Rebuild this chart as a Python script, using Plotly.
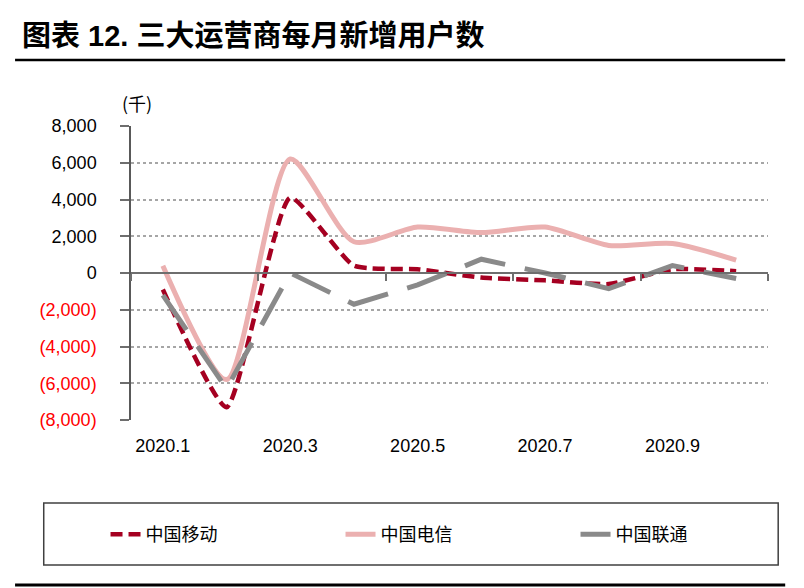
import plotly.graph_objects as go

# 月份（千户）
months = ['2020.1', '2020.2', '2020.3', '2020.4', '2020.5',
          '2020.6', '2020.7', '2020.8', '2020.9', '2020.10']
mobile = [-900, -7300, 4100, 400, 200, -250, -400, -600, 200, 100]
telecom = [400, -5800, 6200, 1700, 2500, 2200, 2500, 1500, 1600, 700]
unicom = [-1200, -6300, 0, -1700, -650, 750, 0, -850, 400, -300]

y_ticks = [8000, 6000, 4000, 2000, 0, -2000, -4000, -6000, -8000]
label_months = ['2020.1', '2020.3', '2020.5', '2020.7', '2020.9']

x = list(range(len(months)))
y_text = []
for v in y_ticks:
    if v < 0:
        y_text.append("<span style='color:#FF0000'>(%s)</span>" % format(-v, ','))
    else:
        y_text.append(format(v, ','))

fig = go.Figure()
fig.add_trace(go.Scatter(x=x, y=mobile, name='中国移动', mode='lines',
                         line=dict(color='#A50021', width=4.5, dash='12px,6px',
                                   shape='spline', smoothing=0.5)))
fig.add_trace(go.Scatter(x=x, y=telecom, name='中国电信', mode='lines',
                         line=dict(color='#EBB0B0', width=5,
                                   shape='spline', smoothing=0.7)))
fig.add_trace(go.Scatter(x=x, y=unicom, name='中国联通', mode='lines',
                         line=dict(color='#8A8A8A', width=5, dash='42px,20px')))
# axis at zero with ticks between months
fig.add_trace(go.Scatter(x=x, y=[None] * len(x), xaxis='x2', showlegend=False,
                         hoverinfo='skip'))

font_num = 'Liberation Sans, Arial, sans-serif'
font_cjk = 'Noto Sans CJK SC, sans-serif'

# page body adds 8px offset, so the figure is 8px smaller
fig.update_layout(
    width=796, height=580,
    margin=dict(l=123, r=36, t=118, b=168, autoexpand=False),
    paper_bgcolor='white', plot_bgcolor='white',
    font=dict(family=font_num, size=17, color='black'),
    xaxis=dict(range=[-0.5, len(months) - 0.5],
               tickvals=[months.index(m) for m in label_months],
               ticktext=label_months,
               ticks='outside', ticklen=9, tickcolor='rgba(0,0,0,0)',
               showgrid=False, showline=False, zeroline=False,
               tickfont=dict(family=font_num, size=18)),
    xaxis2=dict(overlaying='x', matches='x', anchor='free', position=0.5,
                tickvals=[i - 0.5 for i in range(0, len(months) + 1, 2)],
                ticks='outside', ticklen=7, tickcolor='#6E6E6E', tickwidth=1.5,
                showticklabels=False, showgrid=False, zeroline=False,
                showline=True, linecolor='#6E6E6E', linewidth=1.5),
    yaxis=dict(range=[-8000, 8000], tickvals=y_ticks, ticktext=y_text,
               showgrid=True, gridcolor='#A6A6A6', gridwidth=1.5, griddash='dot',
               zeroline=False, showline=True, linecolor='#595959', linewidth=1.5,
               ticks='outside', ticklen=9, tickcolor='#6E6E6E', tickwidth=1.5,
               ticklabelstandoff=20,
               tickfont=dict(family=font_num, size=18)),
    legend=dict(orientation='h', x=-0.04, y=-0.39, xanchor='left', yanchor='middle',
                font=dict(family=font_cjk, size=18), entrywidth=190,
                bgcolor='rgba(0,0,0,0)'),
    showlegend=True,
)

fig.add_annotation(text='<b>图表 12. 三大运营商每月新增用户数</b>', xref='paper', yref='paper',
                   x=-0.175, y=1.306, xanchor='left', yanchor='middle', showarrow=False,
                   font=dict(family='Liberation Sans, Noto Sans CJK SC', size=29, color='black'))
fig.add_annotation(text='(千)', xref='paper', yref='paper', x=0.01, y=1.077,
                   xanchor='center', yanchor='middle', showarrow=False,
                   font=dict(family=font_cjk, size=18, color='black'))

# title rule, legend frame, bottom rule
fig.add_shape(type='line', xref='paper', yref='paper', x0=-0.182, x1=1.027,
              y0=1.2245, y1=1.2245, line=dict(color='black', width=2.5))
fig.add_shape(type='rect', xref='paper', yref='paper', x0=-0.137, x1=1.016,
              y0=-0.282, y1=-0.493, line=dict(color='#404040', width=1.5))
fig.add_shape(type='line', xref='paper', yref='paper', x0=-0.182, x1=1.027,
              y0=-0.561, y1=-0.561, line=dict(color='black', width=3))

fig.write_html('out.html')
